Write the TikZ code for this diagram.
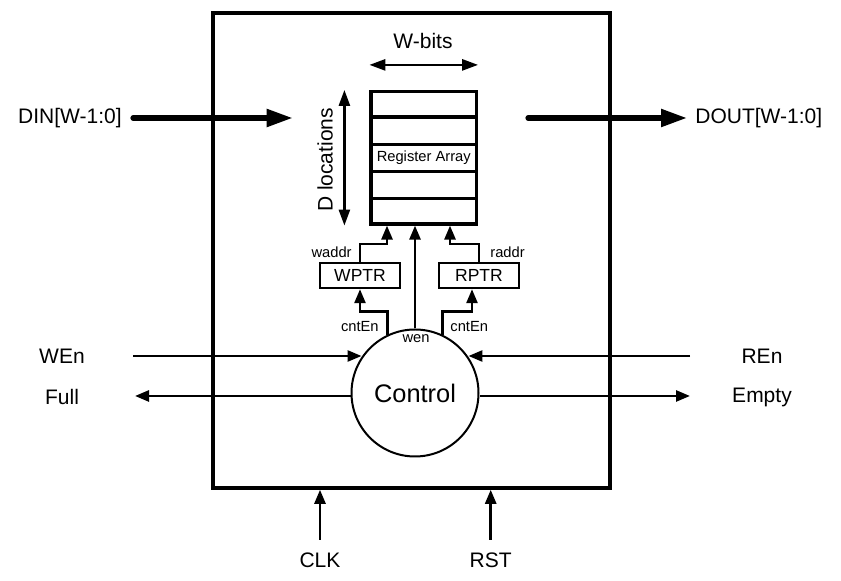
\documentclass[tikz,border=0pt]{standalone}
\usepackage{fontspec}
\setmainfont{Liberation Sans}
\usetikzlibrary{arrows.meta, calc}
\tikzset{
  sig/.style={line width=1.3pt, -{Triangle[length=7pt,width=5.5pt]}},
  bus/.style={line width=2.6pt, line cap=round, -{Triangle[length=13pt,width=8.5pt]}},
  dimarrow/.style={line width=1.3pt, {Triangle[length=8pt,width=5.5pt]}-{Triangle[length=8pt,width=5.5pt]}},
  lbl/.style={inner sep=0pt, font=\fontsize{10.5}{12}\selectfont},
  small/.style={inner sep=0pt, font=\fontsize{7.35}{9}\selectfont},
  ptr/.style={draw, line width=1.2pt, minimum width=40pt, minimum height=12.5pt, inner sep=0pt, font=\fontsize{8.75}{10}\selectfont}
}
\begin{document}
\begin{tikzpicture}[x=0.5pt, y=-0.5pt]
    \useasboundingbox (0,0) rectangle (841,581);
    % block and its parts
    \node[draw, line width=1.8pt, minimum width=198.5pt, minimum height=237.5pt] (fifo) at (411.5,250.5) {};
    \node[draw, line width=1.6pt, minimum width=52.75pt, minimum height=66.25pt, inner sep=0pt, font=\fontsize{7.35}{9}\selectfont] (regarr) at (423.75,157.75) {Register Array};
    \foreach \i in {1,...,4}
        \draw[line width=1.6pt] ($(regarr.north west)!\i/5!(regarr.south west)$) -- ($(regarr.north east)!\i/5!(regarr.south east)$);
    \node[ptr] (wptr) at (360,275.5) {WPTR};
    \node[ptr] (rptr) at (479,275.5) {RPTR};
    \node[draw, circle, line width=1pt, minimum size=63.5pt, inner sep=0pt, font=\fontsize{12.7}{14}\selectfont] (ctrl) at (415,393) {Control};

    % sizes of the array
    \draw[dimarrow] ([yshift=12.5pt]regarr.north west) -- ([yshift=12.5pt]regarr.north east);
    \node[lbl] (wbits) at (423,41) {W-bits};
    \draw[dimarrow] ([xshift=-12.5pt]regarr.north west) -- ([xshift=-12.5pt]regarr.south west);
    \node[lbl, rotate=90] (dloc) at (325,160) {D locations};

    % inner connections
    \coordinate (wb) at (387,244);
    \coordinate (rb) at (450,244);
    \coordinate (wc) at (360,311.7);
    \coordinate (rc) at (472,311.7);
    \draw[sig] (wptr.north) |- (wb) -- (wb |- regarr.south);
    \draw[sig] (rptr.north) |- (rb) -- (rb |- regarr.south);
    \draw[sig] (ctrl.north) -- (ctrl.north |- regarr.south);
    \draw[sig] (ctrl.115) |- (wc) -- (wc |- wptr.south);
    \draw[sig] (ctrl.65) |- (rc) -- (rc |- rptr.south);
    \node[small, anchor=east] (waddr) at (352,252) {waddr};
    \node[small, anchor=west] (raddr) at (490,252) {raddr};
    \node[small, anchor=east] (cntw) at (379,327) {cntEn};
    \node[small, anchor=west] (cntr) at (450,327) {cntEn};
    \node[small] (wen) at (416,339) {wen};

    % ports
    \node[lbl, anchor=east] (din) at (122,118) {DIN[W-1:0]};
    \node[lbl, anchor=west] (dout) at (695,118) {DOUT[W-1:0]};
    \coordinate (dinin) at (133,118);
    \coordinate (dinend) at (292.7,118);
    \coordinate (doutin) at (528,118);
    \coordinate (doutout) at (687,118);
    \draw[bus] (dinin) -- (dinend);
    \draw[bus] (doutin) -- (doutout);

    \node[lbl] (wenl) at (62,356) {WEn};
    \node[lbl] (fulll) at (62,397) {Full};
    \node[lbl] (renl) at (762,356) {REn};
    \node[lbl] (emptyl) at (762,397) {Empty};
    \coordinate (wenin) at (133,356);
    \coordinate (fullout) at (135,396);
    \coordinate (renin) at (690,356);
    \coordinate (emptyout) at (690,396);
    \draw[sig] (wenin) -- (wenin -| ctrl.146);
    \draw[sig] (fullout -| ctrl.west) -- (fullout);
    \draw[sig] (renin) -- (renin -| ctrl.34);
    \draw[sig] (emptyout -| ctrl.east) -- (emptyout);

    \node[lbl] (clkl) at (320,560) {CLK};
    \node[lbl] (rstl) at (490.7,560) {RST};
    \coordinate (clkin) at (320,540);
    \coordinate (rstin) at (490.7,540);
    \draw[sig] (clkin) -- (clkin |- fifo.south);
    \draw[sig] (rstin) -- (rstin |- fifo.south);
\end{tikzpicture}
\end{document}
